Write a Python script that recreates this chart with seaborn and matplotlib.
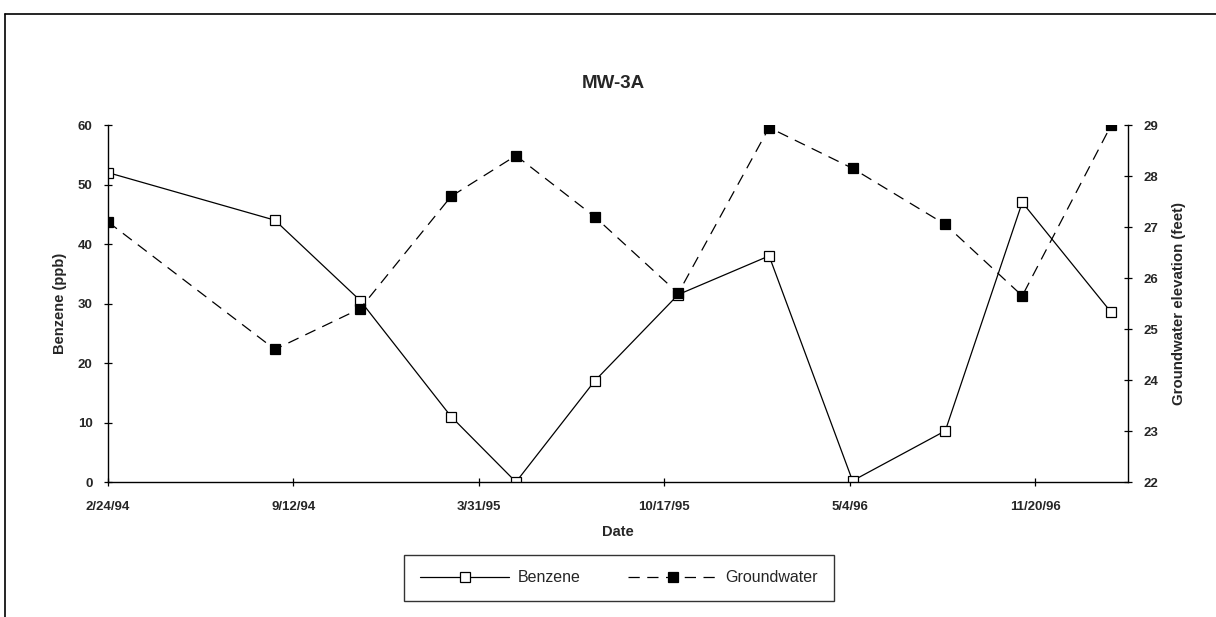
import matplotlib
matplotlib.use("Agg")
import matplotlib.pyplot as plt
from matplotlib.lines import Line2D
import seaborn as sns
import pandas as pd

# ---- data ----
dates = ["1994-02-24", "1994-08-23", "1994-11-23", "1995-03-01", "1995-05-10",
         "1995-08-03", "1995-11-01", "1996-02-07", "1996-05-07", "1996-08-15",
         "1996-11-06", "1997-02-10"]
benzene = [52, 44, 30.5, 11, 0, 17, 31.5, 38, 0.2, 8.6, 47, 28.5]
groundwater = [27.1, 24.6, 25.4, 27.6, 28.4, 27.2, 25.7, 28.95, 28.15, 27.05, 25.65, 29.0]

tick_dates = ["1994-02-24", "1994-09-12", "1995-03-31", "1995-10-17", "1996-05-04", "1996-11-20"]
tick_labels = ["2/24/94", "9/12/94", "3/31/95", "10/17/95", "5/4/96", "11/20/96"]
left_ticks = [0, 10, 20, 30, 40, 50, 60]
right_ticks = [22, 23, 24, 25, 26, 27, 28, 29]
x_range = ["1994-02-24", "1997-02-28"]

df = pd.DataFrame({"Date": pd.to_datetime(dates), "Benzene": benzene, "Groundwater": groundwater})

sns.set_theme(style="white")
plt.rcParams["font.family"] = ["Liberation Sans", "DejaVu Sans"]

fig = plt.figure(figsize=(12.16, 6.17), dpi=100)
ax = fig.add_axes([0.0888, 0.2188, 0.9276 - 0.0888, 0.7974 - 0.2188])
ax2 = ax.twinx()

sns.lineplot(data=df, x="Date", y="Benzene", ax=ax, color="black", linewidth=0.9,
             marker="s", markersize=7.5, markerfacecolor="white",
             markeredgecolor="black", markeredgewidth=0.9, label="Benzene", legend=False)
sns.lineplot(data=df, x="Date", y="Groundwater", ax=ax2, color="black", linewidth=0.9,
             linestyle=(0, (9, 6)), marker="s", markersize=7.5, markerfacecolor="black",
             markeredgecolor="black", markeredgewidth=0.9, label="Groundwater", legend=False)

ax.set_xlim(pd.to_datetime(x_range[0]), pd.to_datetime(x_range[1]))
ax.set_ylim(0, 60)
ax2.set_ylim(22, 29)
ax.set_xticks(pd.to_datetime(tick_dates))
ax.set_xticklabels(tick_labels)
ax.set_yticks(left_ticks)
ax2.set_yticks(right_ticks)

for a in (ax, ax2):
    for s in a.spines.values():
        s.set_color("black")
        s.set_linewidth(1.0)
    a.spines["top"].set_visible(False)
    a.grid(False)
ax.spines["right"].set_visible(False)
ax2.spines["left"].set_visible(False)
ax2.spines["bottom"].set_visible(False)

ax.tick_params(axis="both", direction="inout", length=6, width=0.9, color="black",
               labelsize=9.5, left=True, bottom=True)
ax.tick_params(axis="x", pad=11)
ax.tick_params(axis="y", pad=8)
ax2.tick_params(axis="y", direction="inout", length=6, width=0.9, color="black",
                labelsize=9.5, right=True, pad=8)
for lab in ax.get_xticklabels() + ax.get_yticklabels() + ax2.get_yticklabels():
    lab.set_fontweight("bold")

ax.set_xlabel("Date", fontsize=10.5, fontweight="bold", labelpad=8)
ax.set_ylabel("Benzene (ppb)", fontsize=10.5, fontweight="bold", labelpad=8)
ax2.set_ylabel("Groundwater elevation (feet)", fontsize=10.8, fontweight="bold",
               labelpad=10, rotation=90)

fig.text(0.504, 1 - 83 / 617, "MW-3A", ha="center", va="center", fontsize=13.5, fontweight="bold")

h1, l1 = ax.get_legend_handles_labels()
h2, l2 = ax2.get_legend_handles_labels()
leg = fig.legend(h1 + h2, l1 + l2, loc="center", bbox_to_anchor=(619 / 1216, 1 - 578 / 617),
                 ncol=2, frameon=True, fancybox=False, edgecolor="black",
                 prop={"size": 11.5, "family": ["Liberation Sans", "DejaVu Sans"]},
                 handlelength=5.6, numpoints=1, columnspacing=3.0, borderpad=1.0,
                 handletextpad=0.5)
leg.get_frame().set_linewidth(1.0)

# outer chart frame (top and left edges visible in the reference)
fig.add_artist(Line2D([5 / 1216, 1.0], [1 - 14 / 617, 1 - 14 / 617], color="black", lw=1.2,
                      transform=fig.transFigure))
fig.add_artist(Line2D([5 / 1216, 5 / 1216], [0.0, 1 - 14 / 617], color="black", lw=1.2,
                      transform=fig.transFigure))

fig.savefig("out.png", dpi=100, facecolor="white")
